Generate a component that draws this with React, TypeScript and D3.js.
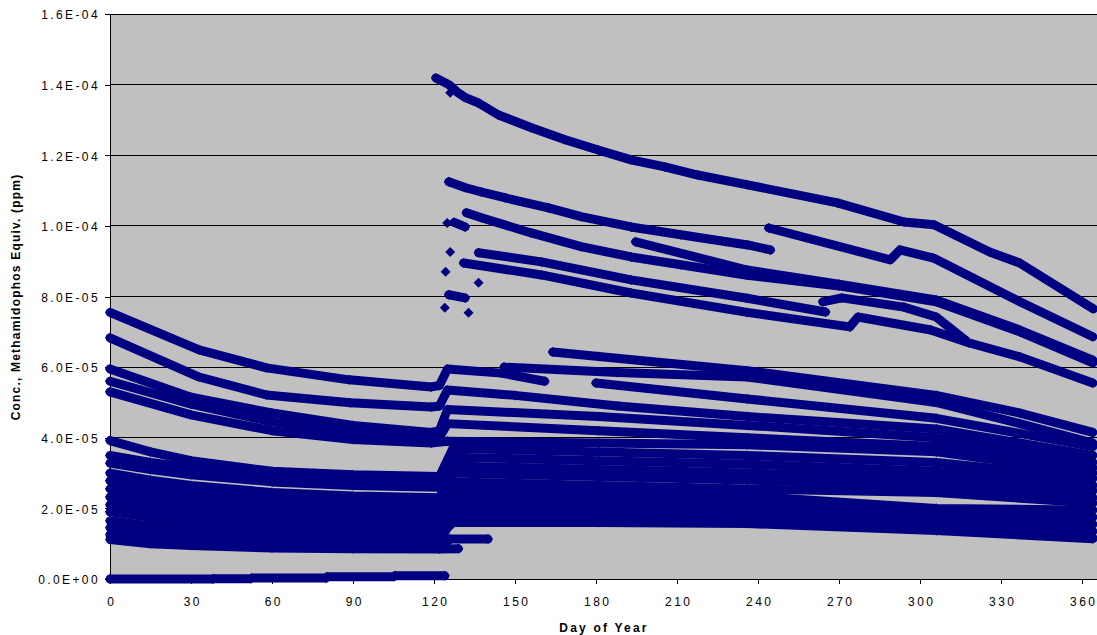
import React, { useEffect, useRef } from "react";
import * as d3 from "d3";

// values are in units of 1E-05 ppm, days are day of year
const UNIT = 1e-5;

const xTicks = [0, 30, 60, 90, 120, 150, 180, 210, 240, 270, 300, 330, 360];
const yTicks = [0, 2, 4, 6, 8, 10, 12, 14, 16];
const yTickLabels = ["0.0E+00", "2.0E-05", "4.0E-05", "6.0E-05", "8.0E-05", "1.0E-04", "1.2E-04", "1.4E-04", "1.6E-04"];

// upper group, starts after the day ~122 application
const topLine = [[120.7, 14.19], [125.5, 14.0], [128.4, 13.8], [131.7, 13.63], [136.5, 13.48], [143.9, 13.14], [156.1, 12.78], [168.6, 12.44], [180.8, 12.15], [193, 11.87], [205.5, 11.67], [217.7, 11.44], [236.2, 11.16], [269.4, 10.65], [294.1, 10.11], [305.2, 10.03], [325.8, 9.26], [336.9, 8.95], [364.2, 7.65]];
const line2 = [[125.5, 11.25], [131.7, 11.08], [137.6, 10.96], [146.5, 10.79], [162.4, 10.51], [174.5, 10.26], [193, 9.97], [211.4, 9.75], [236.2, 9.46], [244.6, 9.32]];
const line2b = [[244, 9.94], [289, 9.04], [292.6, 9.32], [305, 9.09], [337, 7.85], [364, 6.86]];
const line3 = [[132, 10.37], [137.6, 10.23], [156, 9.8], [174.5, 9.41], [193, 9.12], [211.4, 8.9], [236, 8.6], [270, 8.3], [306, 7.85], [337, 7.0], [364, 6.12]];
const line3b = [[194.7, 9.55], [236, 8.75], [270, 8.35], [306, 7.9], [337, 7.05], [364, 6.2]];
const line4 = [[136.5, 9.24], [159.8, 8.98], [193, 8.47], [236, 7.95], [265, 7.56]];
const line4b = [[264, 7.85], [271, 7.96], [294, 7.7], [306, 7.42], [317, 6.75]];
const line5 = [[131, 8.95], [159.8, 8.61], [193, 8.1], [236, 7.55], [274, 7.14], [277, 7.42], [304, 7.05], [318, 6.69], [337, 6.29], [364, 5.55]];
const shortA = [[127.5, 10.1], [131.5, 9.97]];
const shortB = [[125.5, 8.05], [131.5, 7.96]];
const loosePoints = [[126, 13.77], [124.9, 10.08], [126, 9.26], [124.3, 8.7], [136.5, 8.39], [124, 7.68], [132.8, 7.54]];

// middle group
const midA = [[0, 7.55], [33, 6.49], [58, 5.98], [88.6, 5.64], [119, 5.44], [122, 5.48], [125, 5.95], [145, 5.83], [161, 5.6]];
const midB = [[0, 6.83], [33, 5.72], [58, 5.21], [89, 4.99], [119, 4.87], [122, 4.9], [125, 5.35], [150, 5.2], [188, 4.9], [236, 4.6], [306, 4.25], [364, 3.5]];
const midC = [[0, 5.95], [30, 5.15], [60, 4.7], [90, 4.35], [119, 4.15], [122, 4.2], [125, 4.8], [181, 4.6], [236, 4.35], [306, 4.0], [364, 3.3]];
const midD = [[0, 5.6], [30, 4.95], [60, 4.45], [90, 4.15], [119, 3.95], [122, 4.0], [125, 4.4], [181, 4.2], [236, 4.0], [306, 3.75], [364, 3.15]];
const midE = [[0, 5.3], [30, 4.65], [60, 4.2], [90, 3.95], [119, 3.85], [125, 3.9], [181, 3.85], [236, 3.8], [306, 3.6], [364, 3.0]];
const lateA = [[164, 6.43], [181, 6.3], [236, 5.9], [306, 5.2], [337, 4.7], [364, 4.15]];
const lateB = [[146, 6.0], [188, 5.85], [236, 5.72], [306, 5.0], [337, 4.4], [364, 3.85]];
const lateC = [[180, 5.55], [236, 5.1], [306, 4.55], [364, 3.75]];

// dense low group
const lowA = [[0, 3.92], [15, 3.6], [30, 3.35], [60, 3.05], [90, 2.95], [122, 2.9], [127, 3.7], [181, 3.6], [236, 3.5], [306, 3.3], [364, 2.85]];
const lowB = [[0, 3.5], [15, 3.3], [30, 3.15], [60, 2.9], [90, 2.8], [122, 2.75], [127, 3.45], [181, 3.35], [236, 3.25], [306, 3.05], [364, 2.65]];
const lowC = [[0, 3.28], [15, 3.1], [30, 2.95], [60, 2.75], [90, 2.65], [122, 2.6], [127, 3.2], [181, 3.1], [236, 3.0], [306, 2.85], [364, 2.5]];
const lowD = [[0, 3.0], [15, 2.8], [30, 2.65], [60, 2.45], [90, 2.35], [122, 2.3], [127, 3.0], [181, 2.9], [236, 2.8], [306, 2.65], [364, 2.3]];
const lowE = [[0, 2.78], [15, 2.6], [30, 2.45], [60, 2.25], [90, 2.15], [122, 2.1], [127, 2.75], [181, 2.65], [236, 2.55], [306, 2.45], [364, 2.15]];
const lowF = [[0, 2.55], [15, 2.37], [30, 2.25], [60, 2.05], [90, 1.95], [122, 1.9], [127, 2.55], [181, 2.45], [236, 2.35], [306, 2.0], [364, 1.95]];
const lowG = [[0, 2.32], [15, 2.15], [30, 2.03], [60, 1.85], [90, 1.75], [122, 1.72], [127, 2.35], [181, 2.25], [236, 2.15], [306, 1.85], [364, 1.75]];
const lowH = [[0, 2.1], [15, 1.95], [30, 1.85], [60, 1.67], [90, 1.58], [122, 1.55], [127, 2.15], [181, 2.05], [236, 1.95], [306, 1.65], [364, 1.55]];
const lowI = [[0, 1.9], [15, 1.75], [30, 1.65], [60, 1.5], [90, 1.42], [122, 1.4], [127, 1.95], [181, 1.85], [236, 1.75], [306, 1.5], [364, 1.35]];
const lowJ = [[0, 1.65], [15, 1.5], [30, 1.42], [60, 1.3], [90, 1.25], [122, 1.22], [127, 1.6], [140, 1.6]];
const lowK = [[0, 1.45], [15, 1.32], [30, 1.23], [60, 1.1], [90, 1.05], [122, 1.03], [127, 1.75], [181, 1.7], [236, 1.6], [306, 1.4], [364, 1.17]];
const lowL = [[0, 1.25], [15, 1.12], [30, 1.03], [60, 0.93], [90, 0.9], [122, 0.88], [126, 1.13], [140, 1.13]];
const lowM = [[0, 1.12], [15, 1.0], [30, 0.95], [60, 0.88], [90, 0.86], [122, 0.85], [129, 0.86]];
const lowN = [[127, 1.6], [181, 1.6], [236, 1.57], [306, 1.37], [364, 1.14]];
const zeroLine = [[0, 0.0], [38, 0.0], [38.5, 0.01], [52, 0.01], [52.5, 0.025], [80, 0.025], [80.5, 0.065], [105, 0.065], [105.5, 0.09], [124, 0.09]];

const allLines = [
  zeroLine, lowM, lowL, lowK, lowJ, lowI, lowH, lowG, lowF, lowE, lowD, lowC, lowB, lowA, lowN,
  midE, midD, midC, midB, midA, lateC, lateB, lateA,
  line5, line4, line4b, line3, line3b, line2, line2b, topLine, shortA, shortB,
];

const NAVY = "#000080";
const FONT = "'Liberation Sans', Arial, Helvetica, sans-serif";

const App = () => {
  const svgRef = useRef(null);

  useEffect(() => {
    const svg = d3.select(svgRef.current);
    svg.selectAll("*").remove();

    const left = 110;
    const right = 1097;
    const top = 14;
    const bottom = 579;

    const x = d3.scaleLinear().domain([0, 365]).range([left, 1095.5]);
    const y = d3.scaleLinear().domain([0, 16 * UNIT]).range([bottom, top]);

    svg.append("rect").attr("x", left).attr("y", top).attr("width", right - left).attr("height", bottom - top).attr("fill", "#C0C0C0");

    // gridlines
    svg
      .append("g")
      .selectAll("line")
      .data(yTicks.filter((d) => d > 0))
      .join("line")
      .attr("x1", left)
      .attr("x2", right)
      .attr("y1", (d) => y(d * UNIT))
      .attr("y2", (d) => y(d * UNIT))
      .attr("stroke", "#000")
      .attr("stroke-width", 1)
      .attr("shape-rendering", "crispEdges");

    const yAxis = svg
      .append("g")
      .attr("transform", `translate(${left},0)`)
      .call(
        d3
          .axisLeft(y)
          .tickValues(yTicks.map((d) => d * UNIT))
          .tickFormat((d, i) => yTickLabels[i])
          .tickSize(5)
          .tickSizeOuter(0)
          .tickPadding(5)
      );
    yAxis.select(".domain").remove();
    yAxis.selectAll("line").attr("stroke", "#000").attr("shape-rendering", "crispEdges");
    yAxis
      .selectAll("text")
      .attr("font-family", FONT)
      .attr("font-size", 12)
      .attr("letter-spacing", 2.4)
      .attr("dy", "0.4em")
      .attr("fill", "#000");

    const xAxis = svg
      .append("g")
      .attr("transform", `translate(0,${bottom})`)
      .call(d3.axisBottom(x).tickValues(xTicks).tickSize(5).tickSizeOuter(0).tickPadding(13));
    xAxis.select(".domain").remove();
    xAxis.selectAll("line").attr("stroke", "#000").attr("shape-rendering", "crispEdges");
    xAxis
      .selectAll("text")
      .attr("font-family", FONT)
      .attr("font-size", 12)
      .attr("letter-spacing", 2.4)
      .attr("dx", "0.1em")
      .attr("fill", "#000");

    svg.append("line").attr("x1", left).attr("x2", left).attr("y1", top).attr("y2", bottom).attr("stroke", "#000").attr("shape-rendering", "crispEdges");
    svg.append("line").attr("x1", left).attr("x2", right).attr("y1", bottom).attr("y2", bottom).attr("stroke", "#000").attr("shape-rendering", "crispEdges");

    // series: dense daily diamonds read as thick bands
    const line = d3
      .line()
      .x((d) => x(d[0]))
      .y((d) => y(d[1] * UNIT));

    const series = svg.append("g");
    series
      .selectAll("path")
      .data(allLines)
      .join("path")
      .attr("d", (d) => line(d))
      .attr("fill", "none")
      .attr("stroke", NAVY)
      .attr("stroke-width", 9)
      .attr("stroke-linejoin", "round")
      .attr("stroke-linecap", "round");

    const diamond = d3.symbol().type(d3.symbolDiamond2).size(64);
    const pts = allLines.flat().concat(loosePoints);
    series
      .append("g")
      .selectAll("path")
      .data(pts)
      .join("path")
      .attr("d", diamond)
      .attr("transform", (d) => `translate(${x(d[0])},${y(d[1] * UNIT)})`)
      .attr("fill", NAVY);

    svg
      .append("text")
      .attr("transform", `translate(20,297) rotate(-90)`)
      .attr("text-anchor", "middle")
      .attr("font-family", FONT)
      .attr("font-weight", "bold")
      .attr("font-size", 12)
      .attr("letter-spacing", 1.2)
      .text("Conc., Methamidophos Equiv. (ppm)");

    svg
      .append("text")
      .attr("x", 604)
      .attr("y", 632)
      .attr("text-anchor", "middle")
      .attr("font-family", FONT)
      .attr("font-weight", "bold")
      .attr("font-size", 12)
      .attr("letter-spacing", 2.2)
      .text("Day of Year");
  }, []);

  return (
    <svg
      ref={svgRef}
      width={1097}
      height={635}
      style={{ position: "absolute", left: 0, top: 0, background: "#fff" }}
    />
  );
};

export default App;
